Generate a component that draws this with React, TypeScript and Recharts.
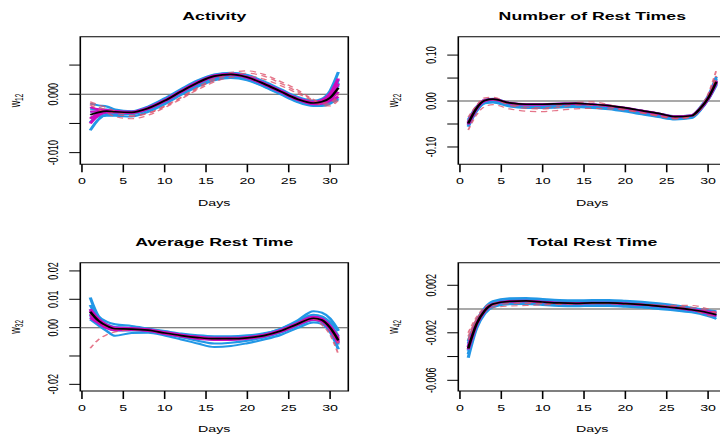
import React from 'react';
import { LineChart, Line, XAxis, YAxis, ReferenceLine, ReferenceArea } from 'recharts';

const DAYS = [1, 2, 3, 4, 6, 8, 10, 12, 14, 16, 18, 20, 22, 24, 26, 28, 29, 30, 31];
const X_TICKS = [0, 5, 10, 15, 20, 25, 30];

// ---- Activity (w12)
const ACT_MEAN = [-0.0035, -0.0031, -0.0029, -0.0030, -0.0031, -0.0024, -0.0011, 0.0005, 0.0020, 0.0031, 0.0034, 0.0029, 0.0018, 0.0005, -0.0008, -0.0015, -0.0013, -0.0006, 0.0011];
const ACT_BLUE = [
  [-0.0016, -0.0019, -0.0021, -0.0026, -0.0029, -0.0021, -0.0007, 0.0009, 0.0024, 0.0034, 0.0037, 0.0033, 0.0022, 0.0009, -0.0004, -0.0011, -0.0008, 0.0006, 0.0038],
  [-0.0062, -0.0043, -0.0035, -0.0034, -0.0034, -0.0027, -0.0015, 0.0001, 0.0016, 0.0027, 0.0030, 0.0025, 0.0014, 0.0001, -0.0012, -0.0019, -0.0018, -0.0013, -0.0010],
  [-0.0048, -0.0036, -0.0032, -0.0031, -0.0032, -0.0025, -0.0012, 0.0004, 0.0019, 0.0030, 0.0033, 0.0028, 0.0017, 0.0004, -0.0009, -0.0016, -0.0014, -0.0004, 0.0025],
  [-0.0025, -0.0026, -0.0026, -0.0028, -0.0030, -0.0022, -0.0009, 0.0007, 0.0022, 0.0033, 0.0036, 0.0031, 0.0020, 0.0007, -0.0006, -0.0013, -0.0011, -0.0002, 0.0020],
  [-0.0040, -0.0038, -0.0037, -0.0037, -0.0038, -0.0030, -0.0017, -0.0001, 0.0013, 0.0024, 0.0028, 0.0024, 0.0013, 0.0000, -0.0013, -0.0020, -0.0020, -0.0016, -0.0007],
  [-0.0030, -0.0029, -0.0028, -0.0029, -0.0030, -0.0023, -0.0010, 0.0006, 0.0021, 0.0032, 0.0035, 0.0030, 0.0019, 0.0006, -0.0007, -0.0014, -0.0012, -0.0005, 0.0015],
];
const ACT_MAGENTA = [
  [-0.0022, -0.0026, -0.0027, -0.0029, -0.0030, -0.0023, -0.0010, 0.0006, 0.0021, 0.0032, 0.0035, 0.0030, 0.0019, 0.0006, -0.0007, -0.0013, -0.0010, 0.0001, 0.0027],
  [-0.0050, -0.0036, -0.0031, -0.0031, -0.0032, -0.0025, -0.0012, 0.0004, 0.0019, 0.0030, 0.0033, 0.0028, 0.0017, 0.0004, -0.0009, -0.0017, -0.0016, -0.0011, -0.0004],
  [-0.0030, -0.0029, -0.0028, -0.0030, -0.0031, -0.0024, -0.0011, 0.0005, 0.0020, 0.0031, 0.0034, 0.0029, 0.0018, 0.0005, -0.0008, -0.0014, -0.0012, -0.0003, 0.0018],
  [-0.0042, -0.0033, -0.0030, -0.0030, -0.0031, -0.0024, -0.0011, 0.0005, 0.0020, 0.0031, 0.0034, 0.0029, 0.0018, 0.0005, -0.0008, -0.0016, -0.0015, -0.0008, 0.0004],
];
const ACT_RED = [
  [-0.0013, -0.0018, -0.0023, -0.0029, -0.0036, -0.0032, -0.0020, -0.0005, 0.0012, 0.0027, 0.0037, 0.0040, 0.0034, 0.0022, 0.0008, -0.0009, -0.0015, -0.0014, 0.0000],
  [-0.0018, -0.0026, -0.0032, -0.0038, -0.0042, -0.0036, -0.0023, -0.0008, 0.0008, 0.0021, 0.0029, 0.0031, 0.0026, 0.0015, 0.0002, -0.0012, -0.0019, -0.0020, -0.0010],
  [-0.0015, -0.0022, -0.0027, -0.0033, -0.0038, -0.0033, -0.0021, -0.0006, 0.0010, 0.0024, 0.0033, 0.0036, 0.0031, 0.0019, 0.0005, -0.0010, -0.0017, -0.0017, -0.0005],
];
const ACT_Y_TICKS = [-0.01, -0.005, 0, 0.005];
const ACT_Y_LABELS = ['-0.010', '', '0.000', ''];

// ---- Number of Rest Times (w22)
const NUM_MEAN = [-0.049, -0.016, 0.001, 0.004, -0.004, -0.007, -0.007, -0.006, -0.005, -0.007, -0.010, -0.015, -0.021, -0.027, -0.034, -0.032, -0.017, 0.006, 0.042];
const NUM_BLUE = [
  [-0.041, -0.013, 0.003, 0.005, -0.004, -0.007, -0.007, -0.006, -0.005, -0.007, -0.010, -0.015, -0.021, -0.027, -0.033, -0.031, -0.015, 0.010, 0.053],
  [-0.045, -0.015, 0.001, 0.003, -0.006, -0.009, -0.009, -0.008, -0.007, -0.009, -0.012, -0.017, -0.023, -0.029, -0.035, -0.033, -0.017, 0.008, 0.048],
  [-0.048, -0.017, -0.001, 0.001, -0.007, -0.010, -0.010, -0.009, -0.008, -0.010, -0.013, -0.018, -0.024, -0.030, -0.036, -0.034, -0.018, 0.006, 0.044],
  [-0.051, -0.019, -0.002, 0.000, -0.009, -0.012, -0.012, -0.011, -0.010, -0.012, -0.015, -0.020, -0.026, -0.032, -0.038, -0.035, -0.019, 0.005, 0.041],
  [-0.054, -0.021, -0.004, -0.002, -0.010, -0.013, -0.013, -0.012, -0.011, -0.013, -0.016, -0.021, -0.027, -0.033, -0.039, -0.036, -0.020, 0.004, 0.038],
  [-0.056, -0.022, -0.005, -0.003, -0.012, -0.015, -0.015, -0.014, -0.013, -0.015, -0.018, -0.023, -0.029, -0.035, -0.040, -0.037, -0.021, 0.003, 0.035],
];
const NUM_MAGENTA = [
  [-0.047, -0.015, 0.002, 0.004, -0.004, -0.007, -0.007, -0.006, -0.005, -0.007, -0.010, -0.015, -0.021, -0.027, -0.034, -0.031, -0.017, 0.007, 0.044],
  [-0.051, -0.017, 0.000, 0.003, -0.005, -0.008, -0.008, -0.006, -0.006, -0.008, -0.011, -0.016, -0.022, -0.028, -0.034, -0.032, -0.018, 0.005, 0.040],
];
const NUM_RED = [
  [-0.063, -0.030, -0.012, -0.008, -0.017, -0.022, -0.023, -0.020, -0.017, -0.016, -0.017, -0.020, -0.026, -0.032, -0.038, -0.034, -0.020, 0.007, 0.055],
  [-0.035, -0.010, 0.007, 0.008, -0.006, -0.013, -0.015, -0.010, -0.003, -0.002, -0.008, -0.017, -0.025, -0.032, -0.037, -0.032, -0.015, 0.015, 0.067],
  [-0.045, -0.014, 0.002, 0.003, -0.009, -0.016, -0.017, -0.014, -0.009, -0.009, -0.013, -0.019, -0.026, -0.033, -0.039, -0.034, -0.019, 0.009, 0.050],
];
const NUM_Y_TICKS = [-0.1, -0.05, 0, 0.05, 0.1];
const NUM_Y_LABELS = ['-0.10', '', '0.00', '', '0.10'];

// ---- Average Rest Time (w32)
const AVG_MEAN = [0.0056, 0.0024, 0.0006, -0.0004, -0.0005, -0.0009, -0.0019, -0.0028, -0.0035, -0.0039, -0.0039, -0.0036, -0.0028, -0.0012, 0.0012, 0.0033, 0.0027, 0.0000, -0.0045];
const AVG_BLUE = [
  [0.0106, 0.0040, 0.0021, 0.0012, 0.0006, -0.0003, -0.0012, -0.0021, -0.0027, -0.0030, -0.0030, -0.0027, -0.0020, -0.0005, 0.0020, 0.0045, 0.0040, 0.0019, -0.0012],
  [0.0029, 0.0008, -0.0012, -0.0029, -0.0019, -0.0018, -0.0028, -0.0042, -0.0056, -0.0068, -0.0065, -0.0055, -0.0042, -0.0026, -0.0002, 0.0018, 0.0013, -0.0015, -0.0076],
  [0.0080, 0.0030, 0.0012, 0.0002, -0.0001, -0.0006, -0.0015, -0.0025, -0.0032, -0.0035, -0.0035, -0.0032, -0.0024, -0.0008, 0.0016, 0.0040, 0.0034, 0.0010, -0.0030],
  [0.0040, 0.0015, 0.0000, -0.0010, -0.0010, -0.0013, -0.0023, -0.0034, -0.0046, -0.0056, -0.0053, -0.0046, -0.0035, -0.0018, 0.0006, 0.0026, 0.0020, -0.0008, -0.0060],
  [0.0065, 0.0027, 0.0008, -0.0003, -0.0004, -0.0008, -0.0017, -0.0026, -0.0032, -0.0036, -0.0036, -0.0032, -0.0022, -0.0004, 0.0024, 0.0058, 0.0053, 0.0032, -0.0010],
  [0.0050, 0.0020, 0.0003, -0.0006, -0.0007, -0.0011, -0.0021, -0.0030, -0.0038, -0.0042, -0.0042, -0.0039, -0.0031, -0.0016, 0.0008, 0.0029, 0.0023, -0.0005, -0.0052],
];
const AVG_MAGENTA = [
  [0.0065, 0.0030, 0.0010, 0.0000, -0.0002, -0.0006, -0.0016, -0.0025, -0.0032, -0.0036, -0.0036, -0.0033, -0.0025, -0.0009, 0.0015, 0.0038, 0.0032, 0.0006, -0.0036],
  [0.0035, 0.0016, -0.0002, -0.0009, -0.0008, -0.0012, -0.0022, -0.0031, -0.0039, -0.0043, -0.0043, -0.0039, -0.0031, -0.0015, 0.0009, 0.0028, 0.0022, -0.0006, -0.0055],
  [0.0059, 0.0026, 0.0007, -0.0002, -0.0004, -0.0008, -0.0018, -0.0027, -0.0034, -0.0038, -0.0038, -0.0035, -0.0027, -0.0011, 0.0013, 0.0035, 0.0029, 0.0002, -0.0042],
  [0.0046, 0.0020, 0.0003, -0.0006, -0.0006, -0.0010, -0.0020, -0.0029, -0.0037, -0.0041, -0.0041, -0.0037, -0.0029, -0.0013, 0.0011, 0.0031, 0.0025, -0.0002, -0.0049],
];
const AVG_RED = [
  [-0.0073, -0.0042, -0.0025, -0.0015, -0.0008, -0.0010, -0.0019, -0.0028, -0.0035, -0.0038, -0.0038, -0.0035, -0.0027, -0.0011, 0.0013, 0.0032, 0.0010, -0.0025, -0.0094],
  [0.0050, 0.0022, 0.0004, -0.0005, -0.0006, -0.0010, -0.0020, -0.0029, -0.0036, -0.0040, -0.0040, -0.0037, -0.0029, -0.0013, 0.0011, 0.0031, 0.0024, -0.0005, -0.0055],
];
const AVG_Y_TICKS = [-0.02, -0.01, 0, 0.01, 0.02];
const AVG_Y_LABELS = ['-0.02', '', '0.00', '0.01', '0.02'];

// ---- Total Rest Time (w42)
const TOT_MEAN = [-0.00332, -0.00127, -0.00014, 0.00042, 0.00065, 0.00068, 0.00059, 0.00051, 0.00048, 0.00051, 0.00051, 0.00045, 0.00037, 0.00025, 0.00011, -0.00006, -0.00017, -0.00031, -0.00048];
const TOT_BLUE = [
  [-0.00270, -0.00100, 0.00010, 0.00067, 0.00090, 0.00093, 0.00084, 0.00076, 0.00073, 0.00076, 0.00076, 0.00070, 0.00061, 0.00048, 0.00032, 0.00012, 0.00000, -0.00010, -0.00018],
  [-0.00290, -0.00110, 0.00001, 0.00057, 0.00080, 0.00083, 0.00074, 0.00066, 0.00063, 0.00066, 0.00066, 0.00060, 0.00051, 0.00039, 0.00024, 0.00005, -0.00006, -0.00018, -0.00030],
  [-0.00315, -0.00120, -0.00009, 0.00047, 0.00070, 0.00073, 0.00064, 0.00056, 0.00053, 0.00056, 0.00056, 0.00050, 0.00042, 0.00030, 0.00016, -0.00002, -0.00012, -0.00025, -0.00040],
  [-0.00350, -0.00135, -0.00019, 0.00037, 0.00060, 0.00063, 0.00054, 0.00046, 0.00043, 0.00046, 0.00046, 0.00040, 0.00032, 0.00020, 0.00006, -0.00010, -0.00022, -0.00037, -0.00055],
  [-0.00380, -0.00150, -0.00029, 0.00027, 0.00050, 0.00053, 0.00044, 0.00036, 0.00033, 0.00036, 0.00036, 0.00030, 0.00022, 0.00010, -0.00004, -0.00020, -0.00032, -0.00050, -0.00070],
  [-0.00410, -0.00165, -0.00039, 0.00017, 0.00040, 0.00043, 0.00034, 0.00026, 0.00023, 0.00026, 0.00026, 0.00020, 0.00012, 0.00000, -0.00012, -0.00028, -0.00040, -0.00060, -0.00082],
];
const TOT_MAGENTA = [
  [-0.00320, -0.00120, -0.00010, 0.00043, 0.00066, 0.00069, 0.00060, 0.00052, 0.00049, 0.00052, 0.00052, 0.00046, 0.00038, 0.00026, 0.00012, -0.00004, -0.00012, -0.00022, -0.00030],
  [-0.00340, -0.00130, -0.00016, 0.00040, 0.00063, 0.00066, 0.00057, 0.00050, 0.00047, 0.00050, 0.00050, 0.00044, 0.00036, 0.00024, 0.00010, -0.00008, -0.00020, -0.00038, -0.00058],
];
const TOT_RED = [
  [-0.00200, -0.00070, 0.00015, 0.00050, 0.00060, 0.00060, 0.00055, 0.00050, 0.00047, 0.00050, 0.00050, 0.00046, 0.00040, 0.00032, 0.00030, 0.00030, 0.00020, 0.00000, -0.00030],
  [-0.00260, -0.00100, -0.00020, 0.00015, 0.00025, 0.00030, 0.00035, 0.00040, 0.00042, 0.00045, 0.00045, 0.00042, 0.00037, 0.00028, 0.00016, 0.00000, -0.00030, -0.00055, -0.00060],
  [-0.00230, -0.00085, 0.00000, 0.00030, 0.00045, 0.00048, 0.00045, 0.00045, 0.00045, 0.00048, 0.00048, 0.00044, 0.00038, 0.00030, 0.00022, 0.00015, 0.00005, -0.00012, -0.00035],
];
const TOT_Y_TICKS = [-0.006, -0.004, -0.002, 0, 0.002];
const TOT_Y_LABELS = ['-0.006', '', '-0.002', '', '0.002'];

const BLUE = '#2297E6';
const MAGENTA = '#CD0BBC';
const RED = '#DF536B';
const FONT = "'Liberation Sans', Arial, Helvetica, sans-serif";

// the original figure is stretched horizontally; panels are drawn narrow and scaled
const S = 1.58;
const PW = 378 / S;
const PH = 226;
const LEFT = 80.3 / S;
const RIGHT = 348.3 / S;
const Y_LABEL_X = 36.7;

const PANELS = [
  { title: 'Activity', sub: '12', col: 0, row: 0, mean: ACT_MEAN, blue: ACT_BLUE, magenta: ACT_MAGENTA, red: ACT_RED, yTicks: ACT_Y_TICKS, yLabels: ACT_Y_LABELS, yDomain: [-0.012, 0.00986] },
  { title: 'Number of Rest Times', sub: '22', col: 1, row: 0, mean: NUM_MEAN, blue: NUM_BLUE, magenta: NUM_MAGENTA, red: NUM_RED, yTicks: NUM_Y_TICKS, yLabels: NUM_Y_LABELS, yDomain: [-0.1377, 0.14] },
  { title: 'Average Rest Time', sub: '32', col: 0, row: 1, mean: AVG_MEAN, blue: AVG_BLUE, magenta: AVG_MAGENTA, red: AVG_RED, yTicks: AVG_Y_TICKS, yLabels: AVG_Y_LABELS, yDomain: [-0.02235, 0.0229] },
  { title: 'Total Rest Time', sub: '42', col: 1, row: 1, mean: TOT_MEAN, blue: TOT_BLUE, magenta: TOT_MAGENTA, red: TOT_RED, yTicks: TOT_Y_TICKS, yLabels: TOT_Y_LABELS, yDomain: [-0.0069, 0.0039] },
];

function Panel({ p }: { p: any }) {
  const rows = DAYS.map((day, i) => {
    const r: any = { day, mean: p.mean[i] };
    p.blue.forEach((s: number[], k: number) => (r['b' + k] = s[i]));
    p.magenta.forEach((s: number[], k: number) => (r['m' + k] = s[i]));
    p.red.forEach((s: number[], k: number) => (r['r' + k] = s[i]));
    return r;
  });
  const top = 36.7;
  const bottom = p.row === 0 ? 164.3 : 165;
  const cx = (LEFT + RIGHT) / 2;
  const cy = (top + bottom) / 2;

  const xTick = (props: any) => (
    <text x={props.x} y={bottom + 19.7} textAnchor="middle" fontSize={9} fontFamily={FONT} fill="#000">
      {props.payload.value}
    </text>
  );
  const yTick = (props: any) => {
    const idx = p.yTicks.findIndex((t: number) => Math.abs(t - props.payload.value) < 1e-9);
    return (
      <text x={Y_LABEL_X} y={props.y} transform={`rotate(-90 ${Y_LABEL_X} ${props.y})`} textAnchor="middle" fontSize={9} fontFamily={FONT} fill="#000">
        {idx >= 0 ? p.yLabels[idx] : ''}
      </text>
    );
  };

  return (
    <div style={{ position: 'absolute', left: p.col * 378, top: p.row * 226, width: PW, height: PH, transform: `scaleX(${S})`, transformOrigin: '0 0' }}>
      <LineChart width={PW} height={PH} data={rows} margin={{ top, right: PW - RIGHT, left: 0, bottom: 0 }}>
        <XAxis type="number" dataKey="day" domain={[-0.2, 32.2]} ticks={X_TICKS} interval={0} height={PH - bottom} axisLine={false} tickSize={8} tickLine={{ stroke: '#000' }} tick={xTick} />
        <YAxis type="number" domain={p.yDomain} ticks={p.yTicks} interval={0} width={LEFT} axisLine={false} tickSize={7} tickLine={{ stroke: '#000' }} tick={yTick} />
        <ReferenceLine y={0} stroke="#555" strokeWidth={1} />
        {p.blue.map((_: any, k: number) => (
          <Line key={'b' + k} type="monotone" dataKey={'b' + k} stroke={BLUE} strokeWidth={2} dot={false} isAnimationActive={false} />
        ))}
        {p.magenta.map((_: any, k: number) => (
          <Line key={'m' + k} type="monotone" dataKey={'m' + k} stroke={MAGENTA} strokeWidth={2.2} dot={false} isAnimationActive={false} />
        ))}
        {p.red.map((_: any, k: number) => (
          <Line key={'r' + k} type="monotone" dataKey={'r' + k} stroke={RED} strokeOpacity={0.8} strokeWidth={1.2} strokeDasharray="4 3" dot={false} isAnimationActive={false} />
        ))}
        <Line type="monotone" dataKey="mean" stroke="#000" strokeWidth={1.7} dot={false} isAnimationActive={false} />
        <ReferenceArea x1={-0.2} x2={32.2} y1={p.yDomain[0]} y2={p.yDomain[1]} fill="none" stroke="#000" strokeWidth={1} />
        <text x={cx} y={p.row === 0 ? 19.5 : 20} textAnchor="middle" fontSize={11.2} fontWeight="bold" fontFamily={FONT} fill="#000">
          {p.title}
        </text>
        <text x={cx} y={206} textAnchor="middle" fontSize={9} fontFamily={FONT} fill="#000">
          Days
        </text>
        <text x={12.5} y={cy} transform={`rotate(-90 12.5 ${cy})`} textAnchor="middle" fontSize={9} fontFamily={FONT} fill="#000">
          w<tspan fontSize={6.5} dy={2}>{p.sub}</tspan>
        </text>
      </LineChart>
    </div>
  );
}

export default function App() {
  return (
    <div style={{ position: 'absolute', left: 0, top: 0, width: 720, height: 438, overflow: 'hidden', background: '#fff' }}>
      {PANELS.map((p) => (
        <Panel key={p.title} p={p} />
      ))}
    </div>
  );
}
